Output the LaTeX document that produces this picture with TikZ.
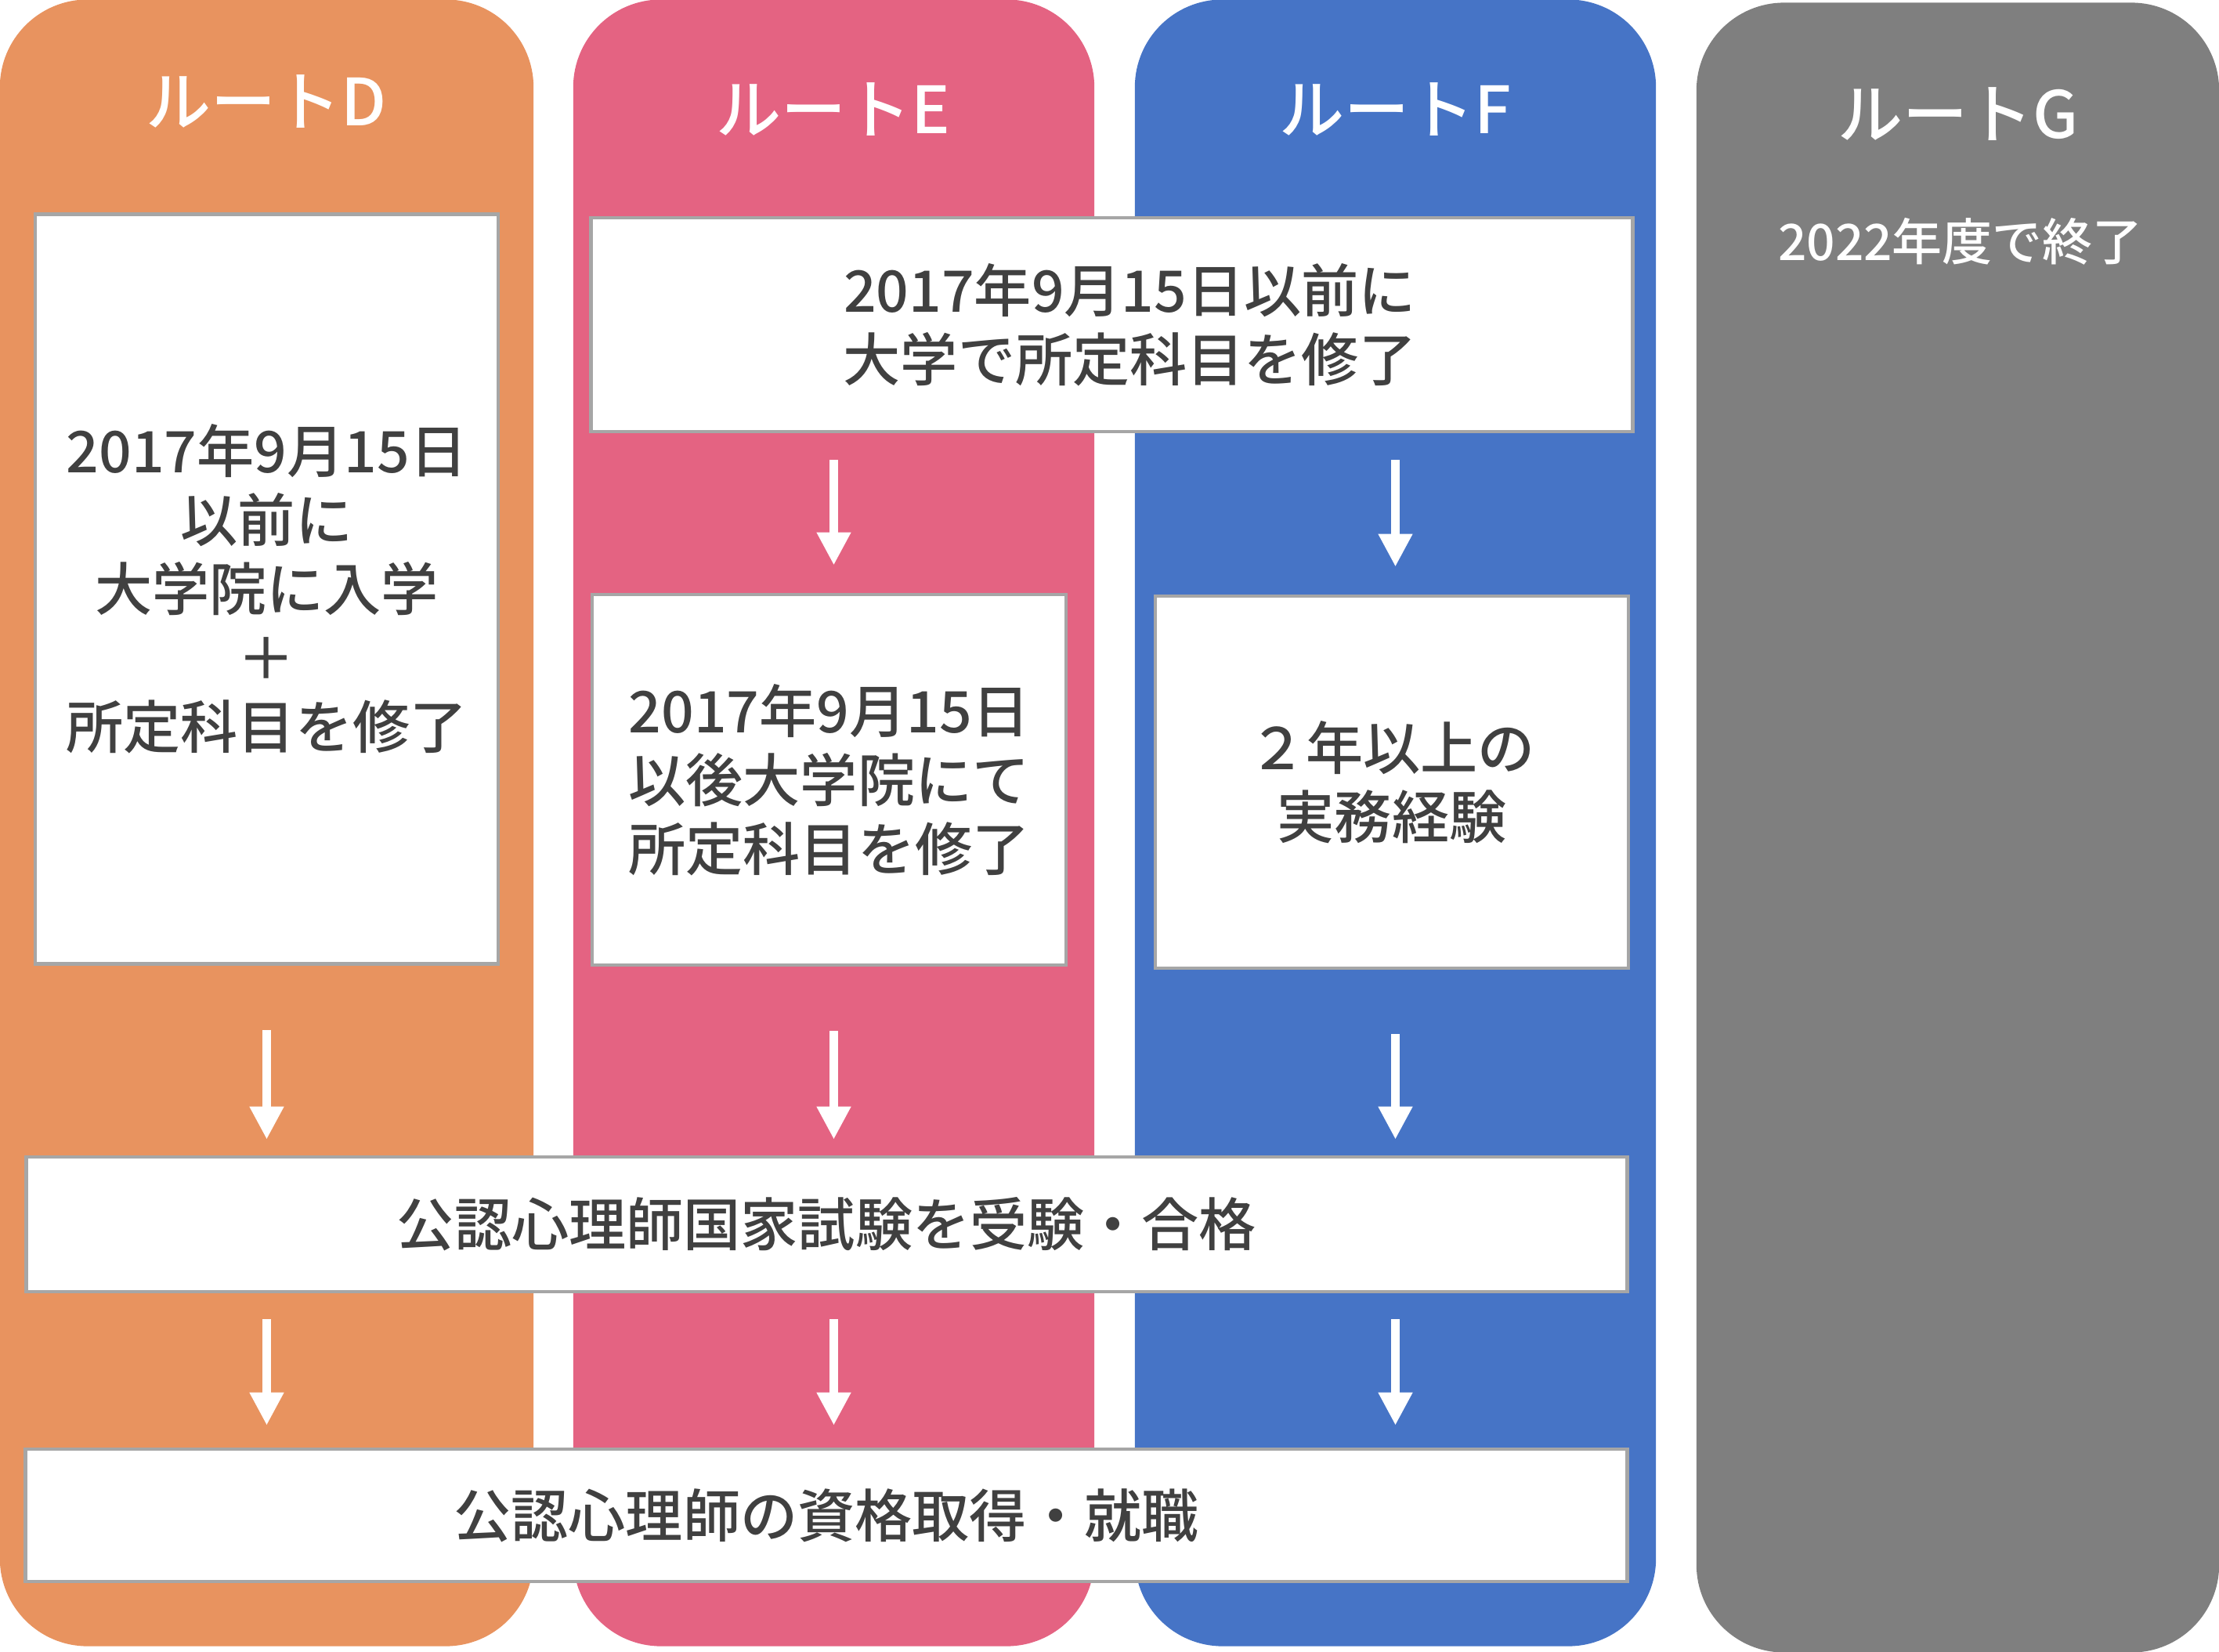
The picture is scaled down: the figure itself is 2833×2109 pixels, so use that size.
\documentclass[tikz,border=0pt]{standalone}
\usepackage{fontspec}
\setmainfont{Noto Sans CJK JP}
\IfFontExistsTF{Noto Sans CJK JP Medium}
  {\newfontfamily\routemed{Noto Sans CJK JP Medium}}
  {\newfontfamily\routemed{Noto Sans CJK JP}[UprightFont=*~Bold]}
\usepackage{xcolor}
\usetikzlibrary{arrows.meta,positioning}
\definecolor{routeD}{HTML}{E8935F}
\definecolor{routeE}{HTML}{E46382}
\definecolor{routeF}{HTML}{4674C6}
\definecolor{routeG}{HTML}{7F7F7F}
\definecolor{boxline}{HTML}{A6A6A6}
\definecolor{boxtext}{HTML}{404040}

\begin{document}
\begin{tikzpicture}[x=0.01cm, y=-0.01cm]
      \useasboundingbox (0,0) rectangle (2833,2109);

      \begin{scope}[every node/.style={rectangle, rounded corners=1.12cm, inner sep=0, outer sep=0}]
          \node[fill=routeD, minimum width=6.81cm, minimum height=21.01cm] (colD) at (340.5,1050.5) {};
          \node[fill=routeE, minimum width=6.65cm, minimum height=21.01cm] (colE) at (1064.5,1050.5) {};
          \node[fill=routeF, minimum width=6.65cm, minimum height=21.01cm] (colF) at (1781.5,1050.5) {};
          \node[fill=routeG, minimum width=6.67cm, minimum height=21.05cm] (colG) at (2499.5,1056.5) {};
      \end{scope}

      \begin{scope}[every node/.style={text=white, font=\routemed\fontsize{23.6}{28}\selectfont}]
          \node (headD) at (340,130) {ルートD};
          \node (headE) at (1064,140) {ルートE};
          \node (headF) at (1781,140) {ルートF};
          \node (headG) at (2500,146) {ルートG};
          \node[font=\routemed\fontsize{18.2}{22}\selectfont] (endG) at (2503,308) {2022年度で終了};
      \end{scope}

      \begin{scope}[every node/.style={rectangle, fill=white, draw=boxline, line width=0.045cm,
                    align=center, text=boxtext, inner sep=0,
                    font=\routemed\fontsize{20.8}{25}\selectfont}]
          \node[minimum width=5.91cm, minimum height=9.56cm] (boxD) at (340.5,752)
              {2017年9月15日\\以前に\\大学院に入学\\＋\\所定科目を修了};
          \node[minimum width=13.29cm, minimum height=2.73cm] (topE) at (1419.5,414.5)
              {\hspace*{0.46cm}2017年9月15日以前に\\\hspace*{0.46cm}大学で所定科目を修了};
          \node[minimum width=6.05cm, minimum height=4.73cm] (boxE) at (1058.5,995.5)
              {2017年9月15日\\以後大学院にて\\所定科目を修了};
          \node[minimum width=6.04cm, minimum height=4.75cm] (boxF) at (1777,998.5)
              {２年以上の\\実務経験};
          \node[minimum width=20.43cm, minimum height=1.72cm] (exam) at (1055.5,1563)
              {公認心理師国家試験を受験・合格};
          \node[minimum width=20.44cm, minimum height=1.69cm] (final) at (1055,1934.5)
              {公認心理師の資格取得・就職};
      \end{scope}

      \begin{scope}[>={Triangle[width=0.41cm, length=0.42cm]},
                    every edge/.style={draw=white, line width=0.11cm}]
        \path [->, shorten <=0.34cm, shorten >=0.35cm] (topE.south -| colE.center) edge (boxE.north -| colE.center);
        \path [->, shorten <=0.34cm, shorten >=0.35cm] (topE.south -| colF.center) edge (boxF.north -| colF.center);
        \path [->, shorten <=0.82cm, shorten >=0.20cm] (boxD.south) edge (exam.north -| boxD.south);
        \path [->, shorten <=0.82cm, shorten >=0.20cm] (boxE.south -| colE.center) edge (exam.north -| colE.center);
        \path [->, shorten <=0.82cm, shorten >=0.20cm] (boxF.south -| colF.center) edge (exam.north -| colF.center);
        \path [->, shorten <=0.33cm, shorten >=0.28cm] (exam.south -| colD.center) edge (final.north -| colD.center);
        \path [->, shorten <=0.33cm, shorten >=0.28cm] (exam.south -| colE.center) edge (final.north -| colE.center);
        \path [->, shorten <=0.33cm, shorten >=0.28cm] (exam.south -| colF.center) edge (final.north -| colF.center);
      \end{scope}
\end{tikzpicture}
\end{document}
